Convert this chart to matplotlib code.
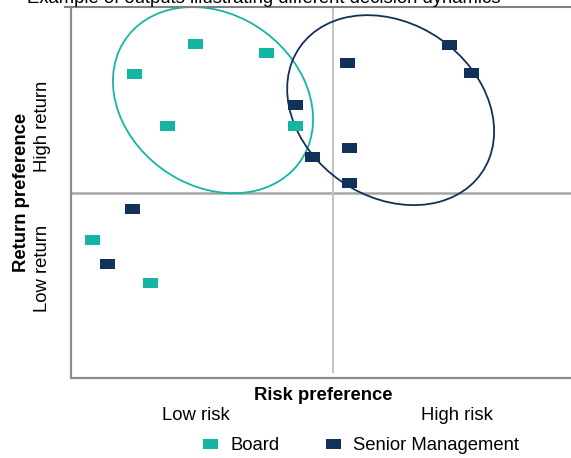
import numpy as np
import matplotlib.pyplot as plt
from matplotlib.patches import Ellipse
from matplotlib.lines import Line2D

plt.rcParams['font.family'] = ['Liberation Sans', 'DejaVu Sans']

# Preference scores (x = risk, y = return), 0-10 scale, 5 = midpoint
board_risk = [2.37, 3.72, 1.20, 1.83, 4.27, 0.40, 1.51]
board_return = [9.00, 8.76, 8.19, 6.79, 6.79, 3.72, 2.56]
mgmt_risk = [4.27, 4.60, 1.16, 5.27, 7.21, 7.63, 5.31, 5.31, 0.69]
mgmt_return = [7.36, 5.96, 4.56, 8.49, 8.98, 8.22, 6.20, 5.26, 3.07]

# Cluster outlines: centre, half-extents and tilt term
board_cluster = dict(cx=2.71, cy=7.49, rx=1.91, ry=2.51, cxy=-0.98)
mgmt_cluster = dict(cx=6.10, cy=7.22, rx=1.975, ry=2.56, cxy=-1.13)

teal = '#14B5A3'
navy = '#12315A'
rect = [(-1.4, -1.0), (1.4, -1.0), (1.4, 1.0), (-1.4, 1.0)]


def cluster_ellipse(cx, cy, rx, ry, cxy, **kw):
    # turn the bounding extents + tilt into an Ellipse patch
    vals, vecs = np.linalg.eigh([[rx ** 2, cxy], [cxy, ry ** 2]])
    angle = np.degrees(np.arctan2(vecs[1, 1], vecs[0, 1]))
    return Ellipse((cx, cy), 2 * np.sqrt(vals[1]), 2 * np.sqrt(vals[0]),
                   angle=angle, fill=False, **kw)


fig = plt.figure(figsize=(5.71, 4.58), dpi=100)
ax = fig.add_axes([71 / 571, 1 - 378 / 458, 524 / 571, 371 / 458])
ax.set_xlim(0, 10)
ax.set_ylim(0, 10)

# quadrant dividers
ax.axhline(5, color='#A6A6A6', lw=1.8, zorder=1)
ax.axvline(5, ymin=0.016, ymax=1, color='#C4C4C4', lw=1.5, zorder=1)

ax.add_patch(cluster_ellipse(**board_cluster, color=teal, lw=1.3, zorder=2))
ax.add_patch(cluster_ellipse(**mgmt_cluster, color=navy, lw=1.3, zorder=2))

ax.plot(board_risk, board_return, ls='none', marker=rect, ms=10.8,
        mew=0, color=teal, zorder=3, label='Board')
ax.plot(mgmt_risk, mgmt_return, ls='none', marker=rect, ms=10.8,
        mew=0, color=navy, zorder=3, label='Senior Management')

for side in ['top', 'right']:
    ax.spines[side].set_visible(False)
for side in ['left', 'bottom']:
    ax.spines[side].set_color('#8C8C8C')
    ax.spines[side].set_linewidth(1.6)
ax.set_xticks([])
ax.set_yticks([])

# top rule under the heading
fig.add_artist(Line2D([65 / 571, 1], [1 - 7 / 458] * 2, color='#808080', lw=1.5))
fig.text(27 / 571, 1 - 3 / 458,
         'Example of outputs illustrating different decision dynamics',
         va='baseline', fontsize=13.3)

ax.set_xlabel('Risk preference', fontsize=13.3, fontweight='bold')
ax.xaxis.set_label_coords(0.481, -0.025)
ax.set_ylabel('Return preference', fontsize=13.3, fontweight='bold')
ax.yaxis.set_label_coords(-0.078, 0.50)

ax.text(0.2385, -0.10, 'Low risk', transform=ax.transAxes,
        ha='center', va='center', fontsize=13.3)
ax.text(0.7366, -0.10, 'High risk', transform=ax.transAxes,
        ha='center', va='center', fontsize=13.3)
ax.text(-0.055, 0.679, 'High return', transform=ax.transAxes, rotation=90,
        ha='center', va='center', fontsize=13.3)
ax.text(-0.055, 0.2965, 'Low return', transform=ax.transAxes, rotation=90,
        ha='center', va='center', fontsize=13.3)

fig.legend(loc='center', bbox_to_anchor=(360 / 571, 1 - 446 / 458), ncol=2,
           frameon=False, fontsize=13.3, handlelength=1.0, handletextpad=0.6,
           columnspacing=2.4, borderpad=0)

fig.savefig('out.png', dpi=100)
